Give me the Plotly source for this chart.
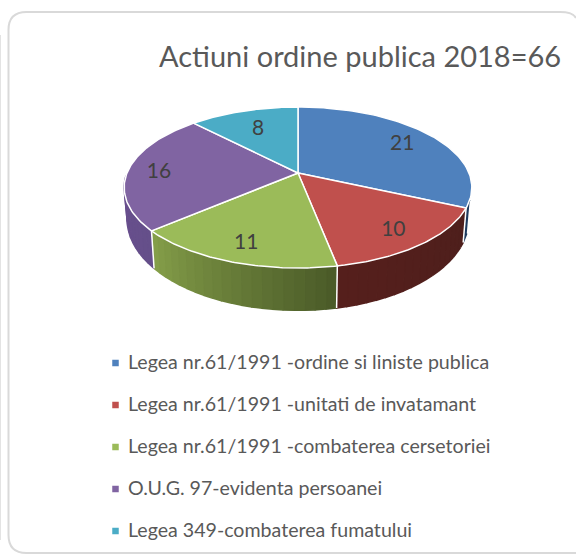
import numpy as np
import plotly.graph_objects as go

title = "Actiuni ordine publica 2018=66"
categories = ["Legea nr.61/1991 -ordine si liniste publica",
              "Legea nr.61/1991 -unitati de invatamant",
              "Legea nr.61/1991 -combaterea cersetoriei",
              "O.U.G. 97-evidenta persoanei",
              "Legea 349-combaterea fumatului"]
values = [21, 10, 11, 16, 8]
colors = ["#4f81bd", "#c0504d", "#9bbb59", "#8064a2", "#4bacc6"]
wall_from = ["#1d3a5e", "#4e1f1c", "#4a5a28", "#65508a", "#2e7a8c"]
wall_to = ["#1d3a5e", "#561f1c", "#86a04a", "#6a4f8f", "#2e7a8c"]
label_radius = [0.78, 0.80, 0.80, 0.82, 0.70]

W, H = 576, 554
CX, CY, R, HT, K = 298, 173, 171, 77.9, 0.18
CY2, R2, HT2 = 203, 168, 88
FONT = "Lato"
TXT = "#595959"


def top(theta, r=1.0, cy=CY, rad=R, ht=HT):
    t = np.radians(theta)
    d = 1 + K * r * np.cos(t)
    return CX + rad * r * np.sin(t) / d, cy - ht * r * np.cos(t) / d


def bottom(theta):
    return top(theta, 1.0, CY2, R2, HT2)


def hexrgb(h):
    return np.array([int(h[i:i + 2], 16) for i in (1, 3, 5)], float)


fig = go.Figure()
edges = np.cumsum([0] + values) / sum(values) * 360

# side walls
VIS_A, VIS_B = 109, 268
for i in range(len(values)):
    a, b = max(edges[i], VIS_A), min(edges[i + 1], VIS_B)
    if b <= a:
        continue
    n = max(1, int((b - a) / 3))
    th = np.linspace(a, b, n + 1)
    c0, c1 = hexrgb(wall_from[i]), hexrgb(wall_to[i])
    for j in range(n):
        seg = np.linspace(th[j], th[j + 1], 4)
        xt, yt = top(seg)
        xb, yb = bottom(seg[::-1])
        mix = (j + 0.5) / n
        c = c0 + (c1 - c0) * mix
        col = f"rgb({int(c[0])},{int(c[1])},{int(c[2])})"
        fig.add_trace(go.Scatter(x=np.r_[xt, xb], y=np.r_[yt, yb], mode="lines",
                                 fill="toself", fillcolor=col,
                                 line=dict(color=col, width=1.6),
                                 hoverinfo="skip", showlegend=False))

# white seams on the walls
for e in edges:
    if VIS_A < e < VIS_B:
        xa, ya = top(e)
        xb, yb = bottom(e)
        fig.add_trace(go.Scatter(x=[xa, xb], y=[ya, yb], mode="lines",
                                 line=dict(color="white", width=1.5),
                                 hoverinfo="skip", showlegend=False))

# top face
for i in range(len(values)):
    th = np.linspace(edges[i], edges[i + 1], 80)
    xs, ys = top(th)
    fig.add_trace(go.Scatter(x=np.r_[CX, xs, CX], y=np.r_[CY, ys, CY], mode="lines",
                             fill="toself", fillcolor=colors[i],
                             line=dict(color="white", width=1.5),
                             hoverinfo="skip", showlegend=False))

# data labels
mids = (edges[:-1] + edges[1:]) / 2
lx, ly = top(mids, np.array(label_radius))
fig.add_trace(go.Scatter(x=lx, y=ly + 2.5, mode="text", text=[str(v) for v in values],
                         textfont=dict(family=FONT, size=21, color="#404040"),
                         hoverinfo="skip", showlegend=False))

# legend
leg_y = [363, 405, 447, 489, 531]
fig.add_trace(go.Scatter(x=[115.5] * 5, y=leg_y, mode="markers",
                         marker=dict(symbol="square", size=6.5, color=colors, line=dict(width=0)),
                         hoverinfo="skip", showlegend=False))
for c, y in zip(categories, leg_y):
    fig.add_annotation(x=125.5, y=y - 1.5, text=c, showarrow=False, xanchor="left", yanchor="middle",
                       font=dict(family=FONT, size=19.6, color=TXT))

fig.add_annotation(x=360, y=55, text=title, showarrow=False, xanchor="center", yanchor="middle",
                   font=dict(family=FONT, size=29, color=TXT))

# card borders
r = 18
bottom_edge = f"M 8.5 {535} Q 8.5 553 {8.5 + r} 553 L 580 553"
fig.update_layout(
    width=W, height=H, margin=dict(l=0, r=0, t=0, b=0),
    paper_bgcolor="white", plot_bgcolor="white",
    xaxis=dict(range=[0, W], visible=False, fixedrange=True),
    yaxis=dict(range=[H, 0], visible=False, fixedrange=True),
    showlegend=False,
    shapes=[
        dict(type="path", path=f"M 8.5 535 L 8.5 {12 + r} Q 8.5 12 {8.5 + r} 12 L 560 12 Q 573 12 576 18",
             line=dict(color="#d9d9d9", width=2), layer="below"),
        dict(type="path", path=bottom_edge, line=dict(color="#d9d9d9", width=2), layer="below"),
        dict(type="line", x0=0.5, x1=0.5, y0=35, y1=540, line=dict(color="#e3e3e3", width=1), layer="below"),
    ],
)
fig.write_html("out.html", config=dict(displayModeBar=False),
               post_script="document.body.style.margin='0';document.documentElement.style.overflow='hidden';")
